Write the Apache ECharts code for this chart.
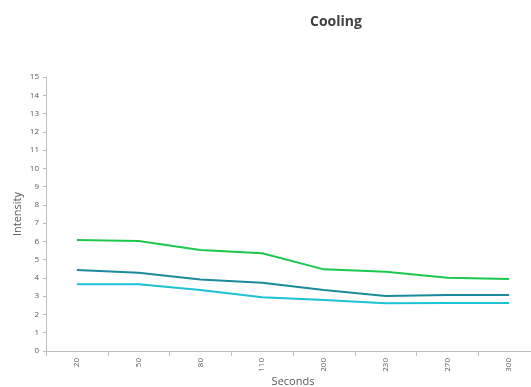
<!DOCTYPE html>
<html>
<head>
<meta charset="utf-8">
<script src="https://cdn.jsdelivr.net/npm/echarts@6/dist/echarts.min.js"></script>
<style>
  html, body { margin: 0; padding: 0; background: #ffffff; overflow: hidden; }
  #chart { width: 531px; height: 387px; }
</style>
</head>
<body>
<div id="chart"></div>
<script>
// Sampling times (seconds) and measured intensity for three runs
const seconds = ['20', '50', '80', '110', '200', '230', '270', '300'];
const runGreen = [6.08, 6.02, 5.53, 5.35, 4.47, 4.34, 4.01, 3.94];
const runTeal  = [4.43, 4.29, 3.92, 3.74, 3.34, 3.01, 3.07, 3.07];
const runCyan  = [3.65, 3.65, 3.34, 2.94, 2.79, 2.61, 2.63, 2.63];

const FONT = '"Open Sans", "Liberation Sans", sans-serif';
const AXIS_GREY = '#bfbfbf';
const TEXT_GREY = '#595959';

const chart = echarts.init(document.getElementById('chart'), null, { renderer: 'canvas' });

function lineSeries(name, data, color) {
  return {
    name: name,
    type: 'line',
    data: data,
    symbol: 'none',
    smooth: false,
    lineStyle: { color: color, width: 2 },
    itemStyle: { color: color },
    animation: false
  };
}

chart.setOption({
  backgroundColor: '#ffffff',
  animation: false,
  title: {
    text: 'Cooling',
    left: 305,
    top: 10,
    textStyle: { fontFamily: FONT, fontSize: 14, fontWeight: 'bold', color: '#404040' }
  },
  // the plot area runs slightly past the right edge of the canvas
  grid: { left: 46, top: 77, width: 494, height: 274, containLabel: false, outerBoundsMode: 'none' },
  xAxis: {
    type: 'category',
    data: seconds,
    boundaryGap: true,
    name: 'Seconds',
    nameLocation: 'middle',
    nameGap: 25,
    nameMoveOverlap: false,
    nameTextStyle: { fontFamily: FONT, fontSize: 11, color: TEXT_GREY },
    axisLine: { lineStyle: { color: AXIS_GREY, width: 1 } },
    axisTick: { show: true, alignWithLabel: false, length: 5, lineStyle: { color: AXIS_GREY } },
    axisLabel: { rotate: 90, fontFamily: FONT, fontSize: 8, color: TEXT_GREY, margin: 7 },
    splitLine: { show: false }
  },
  yAxis: {
    type: 'value',
    min: 0,
    max: 15,
    interval: 1,
    name: 'Intensity',
    nameLocation: 'middle',
    nameGap: 23,
    nameMoveOverlap: false,
    nameRotate: 90,
    nameTextStyle: { fontFamily: FONT, fontSize: 11, color: TEXT_GREY },
    axisLine: { show: true, lineStyle: { color: AXIS_GREY, width: 1 } },
    axisTick: { show: true, length: 3, lineStyle: { color: AXIS_GREY } },
    axisLabel: { fontFamily: FONT, fontSize: 8, color: TEXT_GREY, margin: 7 },
    splitLine: { show: false }
  },
  series: [
    lineSeries('Run A', runGreen, '#1cc84e'),
    lineSeries('Run B', runTeal, '#1a8a9c'),
    lineSeries('Run C', runCyan, '#1cc2d6')
  ]
});
</script>
</body>
</html>
